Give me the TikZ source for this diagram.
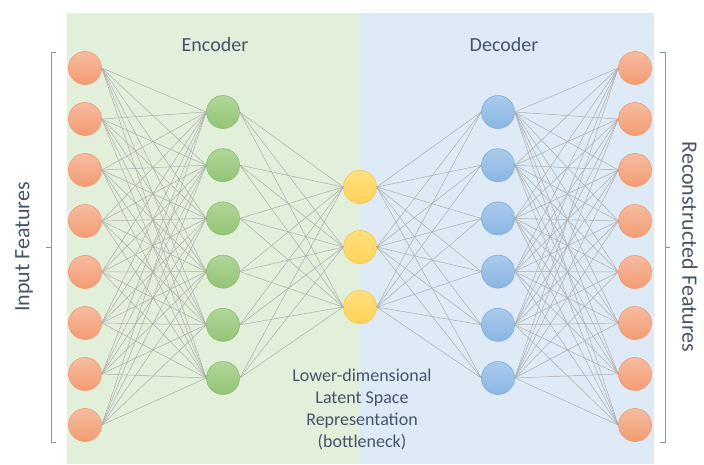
\documentclass[tikz,border=0pt]{standalone}
\usepackage{fontspec}
\setmainfont{Carlito}

\definecolor{txtcol}{HTML}{44546A}
\definecolor{bracecol}{HTML}{8497B0}
\definecolor{encbg}{HTML}{E2EFDA}
\definecolor{decbg}{HTML}{DEEBF7}
\definecolor{linkgray}{HTML}{ADADAD}
\definecolor{orangetop}{HTML}{F7BBA0}
\definecolor{orangebot}{HTML}{F29C73}
\definecolor{orangeedge}{HTML}{F09A70}
\definecolor{greentop}{HTML}{B0D699}
\definecolor{greenbot}{HTML}{94C477}
\definecolor{greenedge}{HTML}{8CBD6C}
\definecolor{yellowtop}{HTML}{FFE07F}
\definecolor{yellowbot}{HTML}{FFD35A}
\definecolor{yellowedge}{HTML}{F5C343}
\definecolor{bluetop}{HTML}{A9CBEC}
\definecolor{bluebot}{HTML}{8AB6E2}
\definecolor{blueedge}{HTML}{7FADDB}

\tikzset{
	unit/.style={circle, minimum size=33pt, inner sep=0pt, line width=0.6pt},
	inunit/.style={unit, draw=orangeedge, top color=orangetop, bottom color=orangebot},
	encunit/.style={unit, draw=greenedge, top color=greentop, bottom color=greenbot},
	codeunit/.style={unit, draw=yellowedge, top color=yellowtop, bottom color=yellowbot},
	decunit/.style={unit, draw=blueedge, top color=bluetop, bottom color=bluebot},
	link/.style={draw=linkgray, line width=0.5pt},
	lbl/.style={text=txtcol, inner sep=0pt},
	brace/.style={draw=bracecol, line width=1pt},
}

\begin{document}
\begin{tikzpicture}[x=1pt, y=-1pt]
	\useasboundingbox (0,0) rectangle (704,464);
	\fill[encbg] (67,13) rectangle (360,464);
	\fill[decbg] (360,13) rectangle (654,464);

	% layers
	\foreach \i in {1,...,8}
		\node[inunit] (in\i) at (85,{68+51*(\i-1)}) {};
	\foreach \i in {1,...,6}
		\node[encunit] (h\i) at (223,{112+53.2*(\i-1)}) {};
	\foreach \i in {1,...,3}
		\node[codeunit] (z\i) at (360,{187+60*(\i-1)}) {};
	\foreach \i in {1,...,6}
		\node[decunit] (d\i) at (498,{112+53.2*(\i-1)}) {};
	\foreach \i in {1,...,8}
		\node[inunit] (out\i) at (635,{68+51*(\i-1)}) {};

	% links
	\foreach \i in {1,...,8}
		\foreach \j in {1,...,6}
			\draw[link] (in\i.east) -- (h\j.west);
	\foreach \i in {1,...,6}
		\foreach \j in {1,...,3}
			\draw[link] (h\i.east) -- (z\j.west);
	\foreach \i in {1,...,3}
		\foreach \j in {1,...,6}
			\draw[link] (z\i.east) -- (d\j.west);
	\foreach \i in {1,...,6}
		\foreach \j in {1,...,8}
			\draw[link] (d\i.east) -- (out\j.west);

	% brackets
	\draw[brace] (56,52) -- (51,52) -- (51,442) -- (56,442);
	\draw[brace] (51,247) -- (46,247);
	\draw[brace] (660,52) -- (665,52) -- (665,442) -- (660,442);
	\draw[brace] (665,247) -- (670,247);

	% labels
	\node[lbl, font=\fontsize{20}{24}\selectfont] (enc) at (215,45) {Encoder};
	\node[lbl, font=\fontsize{20}{24}\selectfont] (dec) at (504,45) {Decoder};
	\node[lbl, align=center, font=\fontsize{18}{22}\selectfont] (latent) at (362,409)
		{Lower-dimensional\\Latent Space\\Representation\\(bottleneck)};
	\node[lbl, rotate=90, font=\fontsize{22}{26}\selectfont] (inlbl) at (24,247) {Input Features};
	\node[lbl, rotate=-90, font=\fontsize{22}{26}\selectfont] (outlbl) at (690,247) {Reconstructed Features};
\end{tikzpicture}
\end{document}
